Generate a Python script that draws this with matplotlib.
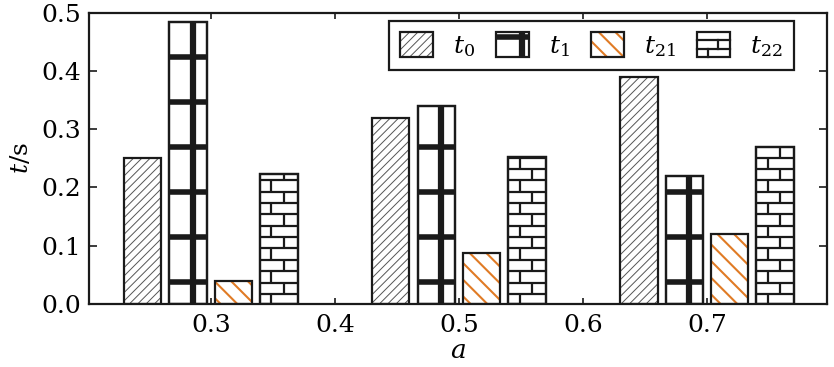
import numpy as np
import matplotlib.pyplot as plt
from matplotlib.patches import Rectangle
from matplotlib.lines import Line2D
from matplotlib.legend_handler import HandlerBase

# data
a_vals = [0.3, 0.5, 0.7]
t0 = [0.250, 0.320, 0.390]
t1 = [0.485, 0.340, 0.220]
t21 = [0.040, 0.088, 0.120]
t22 = [0.223, 0.252, 0.270]
labels = ['$t_0$', '$t_1$', '$t_{21}$', '$t_{22}$']

plt.rcParams['font.family'] = 'DejaVu Serif'
plt.rcParams['mathtext.fontset'] = 'dejavuserif'

INK = '#1a1a1a'
HATCH_GRAY = '#555555'
ORANGE = '#e07b25'

bar_w = 0.030
step = 0.0366
x = np.array(a_vals)


def set_hatch_lw(patch, lw):
    if hasattr(patch, 'set_hatch_linewidth'):
        patch.set_hatch_linewidth(lw)
    else:
        plt.rcParams['hatch.linewidth'] = lw


def hatched_bars(ax, xs, vals, hatch, color, hlw):
    layer = ax.bar(xs, vals, bar_w, color='white', edgecolor=color,
                   linewidth=0, hatch=hatch, zorder=2)
    for p in layer:
        set_hatch_lw(p, hlw)
    ax.bar(xs, vals, bar_w, fill=False, edgecolor=INK, linewidth=1.6, zorder=4)


def cross_lines(ax, x0, w, h, first=0.038, gap=0.0773, lw=4.0):
    ys = np.arange(first, h, gap)
    ax.hlines(ys, x0, x0 + w, colors=INK, lw=lw, zorder=3, capstyle='butt')
    ax.vlines(x0 + 0.63 * w, 0, h, colors=INK, lw=lw + 0.5, zorder=3)


def brick_lines(ax, x0, w, h, first=0.0172, gap=0.0195, lw=1.6):
    ys = list(np.arange(first, h, gap))
    ax.hlines(ys, x0, x0 + w, colors=INK, lw=lw, zorder=3)
    edges = [0.0] + ys + [h]
    for i in range(len(edges) - 1):
        jx = 0.30 if i % 2 == 0 else 0.63
        ax.vlines(x0 + jx * w, edges[i], edges[i + 1], colors=INK, lw=lw, zorder=3)


fig = plt.figure(figsize=(8.34, 3.67), dpi=100)
ax = fig.add_axes([0.107, 0.172, 0.885, 0.793])

# t0: gray diagonal hatch
hatched_bars(ax, x - 1.5 * step, t0, '////', HATCH_GRAY, 0.7)

# t1: thick cross pattern
b1 = ax.bar(x - 0.5 * step, t1, bar_w, color='white', edgecolor=INK, linewidth=1.6, zorder=2)
for r in b1:
    cross_lines(ax, r.get_x(), r.get_width(), r.get_height())
ax.bar(x - 0.5 * step, t1, bar_w, fill=False, edgecolor=INK, linewidth=1.6, zorder=4)

# t21: orange diagonal hatch
hatched_bars(ax, x + 0.5 * step, t21, '\\\\', ORANGE, 1.5)

# t22: brick pattern
b22 = ax.bar(x + 1.5 * step, t22, bar_w, color='white', edgecolor=INK, linewidth=1.6, zorder=2)
for r in b22:
    brick_lines(ax, r.get_x(), r.get_width(), r.get_height())
ax.bar(x + 1.5 * step, t22, bar_w, fill=False, edgecolor=INK, linewidth=1.6, zorder=4)


class PatternHandler(HandlerBase):
    def __init__(self, kind):
        super().__init__()
        self.kind = kind

    def create_artists(self, legend, orig_handle, xdescent, ydescent,
                       width, height, fontsize, trans):
        x0, y0 = -xdescent, -ydescent
        arts = []
        if self.kind == 't0':
            r = Rectangle((x0, y0), width, height, facecolor='white',
                          edgecolor=HATCH_GRAY, lw=0, hatch='////')
            set_hatch_lw(r, 0.7)
            arts.append(r)
        elif self.kind == 't21':
            r = Rectangle((x0, y0), width, height, facecolor='white',
                          edgecolor=ORANGE, lw=0, hatch='\\\\')
            set_hatch_lw(r, 1.5)
            arts.append(r)
        elif self.kind == 't1':
            arts.append(Line2D([x0, x0 + width], [y0 + 0.82 * height] * 2,
                               color=INK, lw=4, solid_capstyle='butt'))
            arts.append(Line2D([x0 + 0.78 * width] * 2, [y0, y0 + height],
                               color=INK, lw=4.5, solid_capstyle='butt'))
        elif self.kind == 't22':
            for fy in (0.33, 0.70):
                arts.append(Line2D([x0, x0 + width], [y0 + fy * height] * 2,
                                   color=INK, lw=1.6))
            arts.append(Line2D([x0 + 0.63 * width] * 2,
                               [y0 + 0.33 * height, y0 + 0.70 * height], color=INK, lw=1.6))
            arts.append(Line2D([x0 + 0.31 * width] * 2,
                               [y0, y0 + 0.33 * height], color=INK, lw=1.6))
        arts.append(Rectangle((x0, y0), width, height, fill=False,
                              edgecolor=INK, lw=1.6))
        for a in arts:
            a.set_transform(trans)
        return arts


kinds = ['t0', 't1', 't21', 't22']
handles = [Rectangle((0, 0), 1, 1) for _ in kinds]
hmap = {h: PatternHandler(k) for h, k in zip(handles, kinds)}
leg = ax.legend(handles, labels, handler_map=hmap, ncol=4, loc='upper right',
                bbox_to_anchor=(0.955, 0.9725), borderaxespad=0,
                fontsize=18, handlelength=1.32, handleheight=1.16,
                handletextpad=0.8, columnspacing=0.85, borderpad=0.45,
                fancybox=False, framealpha=1, edgecolor=INK)
leg.get_frame().set_linewidth(1.6)

ax.set_xlim(0.202, 0.797)
ax.set_ylim(0, 0.5)
ax.set_xticks([0.3, 0.4, 0.5, 0.6, 0.7])
ax.set_xticklabels(['0.3', '0.4', '0.5', '0.6', '0.7'])
ax.set_yticks([0.0, 0.1, 0.2, 0.3, 0.4, 0.5])
ax.set_yticklabels(['0.0', '0.1', '0.2', '0.3', '0.4', '0.5'])
ax.tick_params(axis='both', direction='in', labelsize=18, width=1.2, color=INK,
               top=True, right=True)
ax.tick_params(axis='y', length=6, pad=6)
ax.tick_params(axis='x', length=4, pad=7)
for s in ax.spines.values():
    s.set_linewidth(1.6)
    s.set_color(INK)

ax.set_xlabel('$a$', fontsize=19, labelpad=1)
ax.set_ylabel('$t$/s', fontsize=18, labelpad=6)

fig.savefig('out.png', dpi=100)
